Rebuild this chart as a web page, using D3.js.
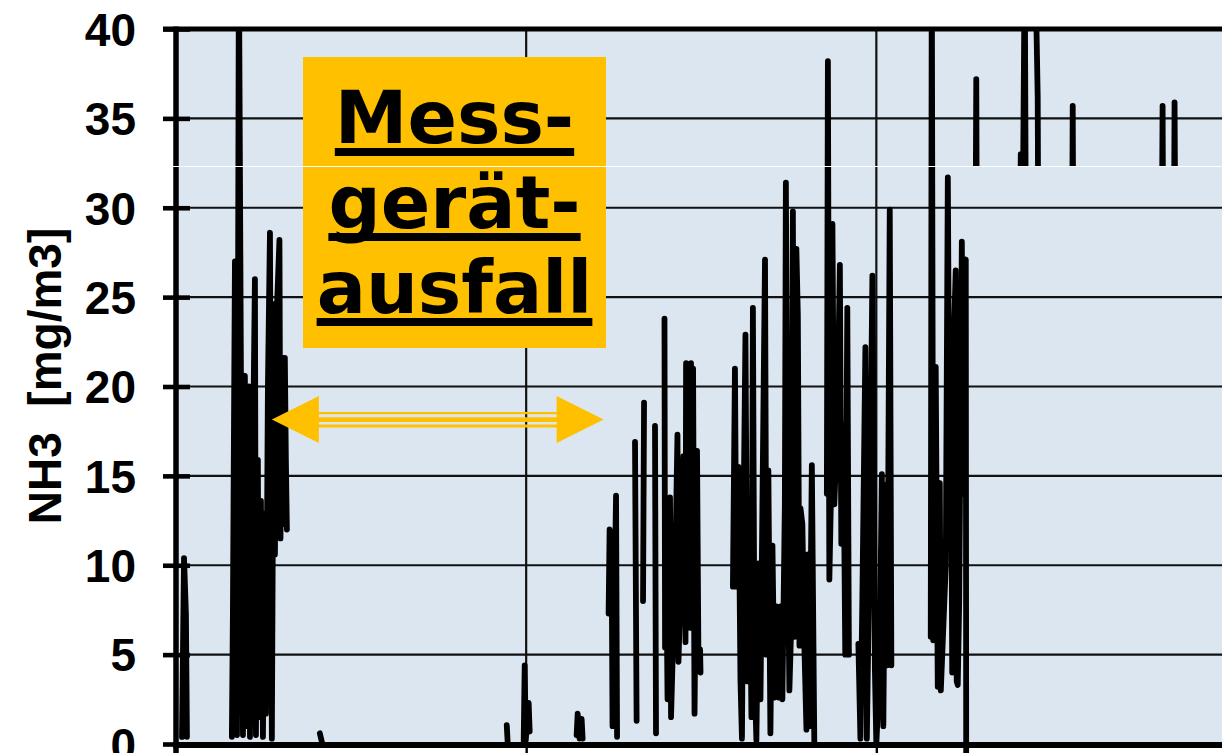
<!DOCTYPE html>
<html>
<head>
<meta charset="utf-8">
<script src="https://cdn.jsdelivr.net/npm/d3@7"></script>
<style>
  body { margin: 0; background: #fff; }
  svg { display: block; }
</style>
</head>
<body>
<svg id="chart" width="1222" height="753"></svg>
<script>
// Messzeit in Stunden (null = Lücke / kein Messwert)
const hours = [
  0.41, 0.55, 0.68, 0.75, null,
  3.83, 3.90, 4.04, 4.18, 4.31, 4.45, 4.59, 4.72, 4.86, 5.00, 5.07, 5.20, 5.41, 5.48, 5.61, 5.68, 5.82,
  5.96, 6.09, 6.16, 6.30, 6.44, 6.57, 6.71, 6.78, 6.92, 7.09, 7.16, 7.26, 7.33, 7.46, 7.53, 7.60, null,
  9.86, 10.00, null,
  22.67, 22.73, null,
  23.83, 23.90, 23.97, 24.17, 24.24, null,
  27.46, 27.53, 27.66, 27.80, 27.87, null,
  29.65, 29.72, 29.85, 29.92, 30.16, 30.23, null,
  31.46, 31.57, null,
  32.01, 32.08, null,
  32.83, 32.90, null,
  33.48, 33.52, 33.62, 33.69, 33.86, 33.93, 34.24, 34.37, 34.44, 34.65, 34.78, 34.92, 34.96, 35.06,
  35.13, 35.23, 35.30, 35.37, 35.44, 35.54, 35.71, 35.81, 35.92, 35.95, null,
  38.17, 38.31, 38.41, 38.55, 38.69, 38.79, 38.89, 39.03, 39.17, 39.30, 39.44, 39.54, 39.65, 39.78, 39.92,
  40.06, 40.19, 40.37, 40.47, 40.60, 40.74, 40.88, 41.02, 41.15, 41.29, 41.43, 41.56, 41.73, 41.80, 41.91,
  42.04, 42.18, 42.28, 42.39, 42.52, 42.62, 42.73, 42.80, 42.93, 43.07, 43.21, 43.31, 43.41, 43.58, 43.75, null,
  44.61, 44.68, 44.78, 44.88, 44.99, 45.12, 45.33, 45.50, 45.60, 45.74, 45.87, 46.01, 46.12, null,
  46.77, 46.91, 47.04, 47.25, 47.35, 47.52, 47.73, 47.83, 47.90, 48.00, 48.21, 48.38, 48.48, 48.62, 48.75,
  48.92, 49.03, null,
  51.73, 51.80, 51.90, 52.07, 52.21, 52.35, 52.42, 52.76, 52.90, 53.03, 53.10, 53.20, 53.34, 53.44, 53.51,
  53.58, 53.68, 53.86, 53.96, 54.06, 54.13, 54.16
];

// NH3 in mg/m3
const nh3 = [
  0.4, 10.4, 7.3, 0.4, null,
  0.4, 7.3, 27.0, 0.5, 44, 20.7, 0.5, 20.6, 1.0, 20.0, 0.4, 11.0, 26.0, 0.5, 15.9, 1.5, 13.6,
  0.4, 12.9, 1.7, 20.0, 28.6, 0.3, 24.6, 10.6, 24.4, 28.2, 11.5, 21.6, 12.3, 21.6, 15.9, 12.0, null,
  0.6, 0.1, null,
  1.05, 0.1, null,
  0.2, 4.4, 0.2, 2.3, 0.7, null,
  0.5, 1.7, 0.3, 1.4, 0.3, null,
  7.3, 12.0, 11.7, 1.0, 13.9, 0.4, null,
  16.9, 1.3, null,
  8.0, 19.1, null,
  17.8, 0.6, null,
  23.8, 5.4, 8.8, 2.5, 13.8, 1.5, 11.0, 17.3, 4.6, 11.0, 16.1, 5.7, 21.3, 8.0,
  17.0, 6.5, 21.3, 12.5, 21.0, 1.7, 16.4, 4.5, 5.3, 4.0, null,
  8.8, 21.0, 8.8, 15.5, 3.5, 0.3, 12.0, 22.9, 3.5, 13.0, 1.5, 24.4, 4.0, 0.2, 10.1,
  2.5, 13.2, 27.1, 5.0, 15.3, 0.6, 11.1, 2.6, 7.7, 2.6, 7.7, 2.5, 13.4, 31.4, 13.0,
  3.0, 7.0, 29.8, 6.0, 27.7, 24.0, 5.5, 13.2, 12.3, 5.4, 0.8, 10.6, 1.0, 15.6, 0.0, null,
  14.0, 38.2, 9.2, 13.4, 29.1, 13.4, 18.0, 26.8, 11.2, 17.9, 5.0, 24.4, 5.0, null,
  5.6, 0.3, 8.0, 22.2, 0.3, 10.0, 26.2, 14.8, 4.2, 0.0, 3.8, 15.1, 1.0, 14.5, 4.4,
  29.9, 4.4, null,
  6.0, 44, 5.8, 21.1, 3.2, 14.6, 3.0, 10.0, 31.7, 13.0, 22.9, 4.0, 23.5, 26.5, 3.5,
  3.3, 8.0, 28.1, 14.0, 26.9, 27.1, -0.8
];

// oberer Bildstreifen (nur oberhalb der Stoßkante sichtbar)
const hoursTop = [54.81, 54.85, 54.88, null, 57.86, 57.90, 58.07, 58.17, 58.24, null,
  58.89, 59.06, 59.09, null, 61.43, 61.46, 61.49, null, 67.58, 67.62, 67.65, null, 68.41, 68.44, 68.48];
const nh3Top = [30, 37.2, 30, null, 30, 33.0, 33.0, 44, 30, null,
  44, 36.2, 30, null, 30, 35.7, 30, null, 30, 35.7, 30, null, 30, 35.9, 30];

const yTicks = [0, 5, 10, 15, 20, 25, 30, 35, 40];
const xGridHours = [24, 48];
const yTitle = "NH3  [mg/m3]";
const boxLines = ["Mess-", "gerät-", "ausfall"];
// Ausfallzeitraum (Pfeil), in Stunden bzw. mg/m3
const outageStart = 6.57, outageEnd = 29.31, outageLevel = 18.15;

const W = 1222, H = 753;
const svg = d3.select("#chart");
const x = d3.scaleLinear().domain([0, 72]).range([176, 1226.5]);
const y = d3.scaleLinear().domain([0, 40]).range([744, 29]);

const toPoints = (ts, vs) => ts.map((t, i) => ({ t, v: vs[i] }));
const mainPts = toPoints(hours, nh3);
const topPts = toPoints(hoursTop, nh3Top);

const defs = svg.append("defs");
defs.append("clipPath").attr("id", "plotClip").append("rect")
  .attr("x", x(0)).attr("y", y(40)).attr("width", W).attr("height", H - y(40));
defs.append("clipPath").attr("id", "topClip").append("rect")
  .attr("x", x(0)).attr("y", y(40)).attr("width", W).attr("height", 166.5 - y(40));

// Hintergrund
svg.append("rect")
  .attr("x", x(0)).attr("y", y(40))
  .attr("width", W - x(0)).attr("height", y(0) - y(40))
  .attr("fill", "#dce6f0");

// Gitterlinien
svg.append("g").selectAll("line")
  .data(yTicks.filter(v => v > 0 && v < 40))
  .join("line")
  .attr("x1", x(0)).attr("x2", W)
  .attr("y1", d => y(d)).attr("y2", d => y(d))
  .attr("stroke", "#111").attr("stroke-width", 2.2);

svg.append("g").selectAll("line")
  .data(xGridHours)
  .join("line")
  .attr("x1", d => x(d)).attr("x2", d => x(d))
  .attr("y1", y(40)).attr("y2", y(0))
  .attr("stroke", "#111").attr("stroke-width", 2.2);

// Messwerte
const line = d3.line()
  .defined(d => d.v != null && d.t != null)
  .x(d => x(d.t))
  .y(d => y(d.v));

[[mainPts, "plotClip"], [topPts, "topClip"]].forEach(([pts, clip]) => {
  svg.append("path")
    .datum(pts)
    .attr("clip-path", `url(#${clip})`)
    .attr("d", line)
    .attr("fill", "none")
    .attr("stroke", "#000")
    .attr("stroke-width", 5.8)
    .attr("stroke-linejoin", "round")
    .attr("stroke-linecap", "round");
});

// x-Achse
const xAxis = svg.append("g")
  .attr("transform", `translate(0,${y(0)})`)
  .call(d3.axisBottom(x).tickValues(xGridHours).tickSize(18).tickFormat(""));
xAxis.select(".domain").remove();
xAxis.selectAll(".tick line").attr("stroke", "#000").attr("stroke-width", 2.4);
svg.append("line")
  .attr("x1", x(0) - 3).attr("x2", W)
  .attr("y1", y(0) + 1).attr("y2", y(0) + 1)
  .attr("stroke", "#000").attr("stroke-width", 6);

// oberer Rahmen
svg.append("line")
  .attr("x1", 163).attr("x2", W)
  .attr("y1", y(40)).attr("y2", y(40))
  .attr("stroke", "#000").attr("stroke-width", 5);

// y-Achse
svg.append("line")
  .attr("x1", x(0)).attr("x2", x(0))
  .attr("y1", y(40) - 2.5).attr("y2", H)
  .attr("stroke", "#000").attr("stroke-width", 5.5);

const yAxis = svg.append("g")
  .attr("transform", `translate(${x(0)},0)`)
  .call(d3.axisLeft(y).tickValues(yTicks).tickSize(0).tickPadding(40));
yAxis.select(".domain").remove();
yAxis.selectAll(".tick line")
  .attr("x1", -13).attr("x2", 14)
  .attr("stroke", "#000").attr("stroke-width", 4.6);
yAxis.selectAll(".tick text")
  .attr("dy", "0.355em")
  .attr("fill", "#000")
  .style("font-family", "'Liberation Sans', Arial, sans-serif")
  .style("font-weight", "bold")
  .style("font-size", "46px");

// Achsentitel
svg.append("text")
  .attr("transform", "translate(61,376) rotate(-90)")
  .attr("text-anchor", "middle")
  .style("font-family", "'Liberation Sans', Arial, sans-serif")
  .style("font-weight", "bold")
  .style("font-size", "46px")
  .style("white-space", "pre")
  .text(yTitle);

// Hinweis-Kasten
const box = svg.append("g");
box.append("rect")
  .attr("x", 303).attr("y", 57).attr("width", 303).attr("height", 291)
  .attr("fill", "#ffc000");
boxLines.forEach((s, i) => {
  const base = 143 + i * 85;
  const t = box.append("text")
    .attr("x", 454.5).attr("y", base)
    .attr("text-anchor", "middle")
    .style("font-family", "'DejaVu Sans', Verdana, sans-serif")
    .style("font-weight", "bold")
    .style("font-size", "73px")
    .text(s);
  const bb = t.node().getBBox();
  box.append("rect")
    .attr("x", bb.x).attr("y", base + 5)
    .attr("width", bb.width).attr("height", 8)
    .attr("fill", "#000");
});

// Doppelpfeil für den Ausfallzeitraum
const ax1 = x(outageStart), ax2 = x(outageEnd), ay = y(outageLevel);
const headL = 47, headH = 23.5;
const arrow = svg.append("g").attr("fill", "#ffc000").attr("stroke", "#ffc000");
[[-6.5, 2.3], [0, 4.7], [6.4, 3]].forEach(([off, w]) => {
  arrow.append("line")
    .attr("x1", ax1 + headL - 1).attr("x2", ax2 - headL + 1)
    .attr("y1", ay + off).attr("y2", ay + off)
    .attr("stroke-width", w);
});
arrow.append("path")
  .attr("stroke", "none")
  .attr("d", `M${ax1},${ay} L${ax1 + headL},${ay - headH} L${ax1 + headL},${ay + headH} Z`);
arrow.append("path")
  .attr("stroke", "none")
  .attr("d", `M${ax2},${ay} L${ax2 - headL},${ay - headH} L${ax2 - headL},${ay + headH} Z`);

// Stoßkante der Bildmontage
svg.append("line")
  .attr("x1", 173).attr("x2", W)
  .attr("y1", 166.5).attr("y2", 166.5)
  .attr("stroke", "#fff").attr("stroke-width", 1.2);
</script>
</body>
</html>
